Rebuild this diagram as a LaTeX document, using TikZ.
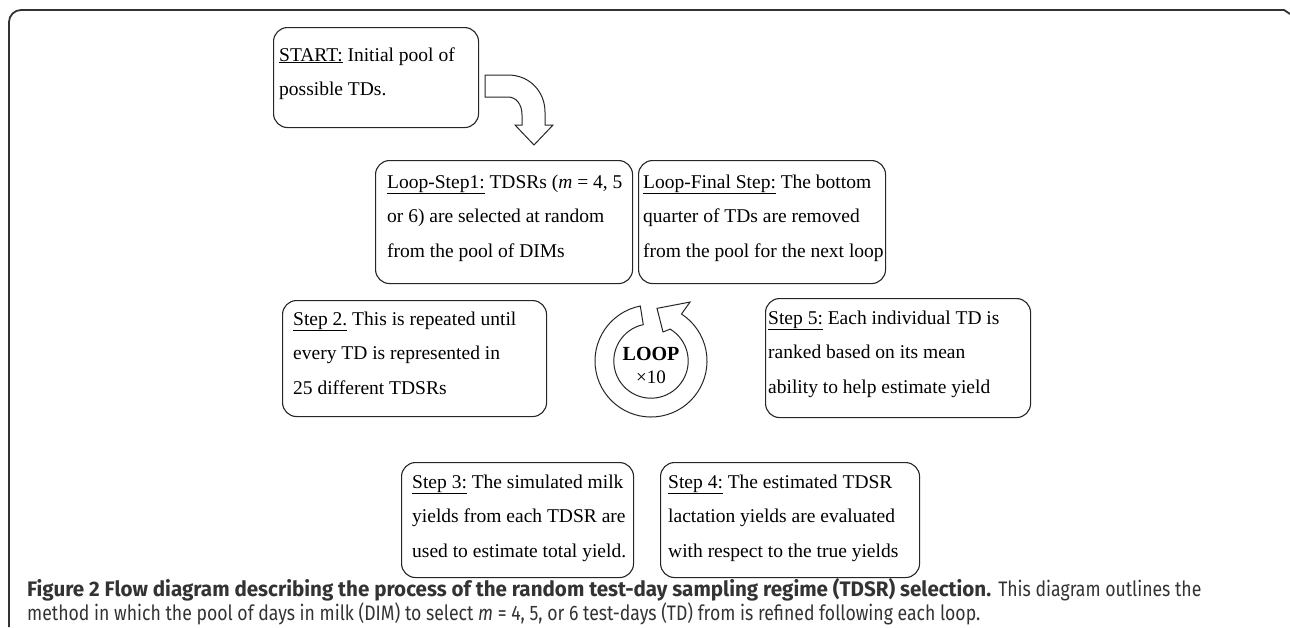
\documentclass[tikz,border=0pt]{standalone}
\usepackage{fontspec}
\setmainfont{Liberation Serif}
\newfontfamily\capreg[FakeStretch=0.84]{Fira Sans}
\newfontfamily\capbold[FakeStretch=0.98]{Fira Sans}
\usetikzlibrary{calc}
\begin{document}
\begin{tikzpicture}[x=1pt,y=-1pt,
  stepbox/.style={draw=black!85, line width=1.1pt, rounded corners=14pt, inner sep=0pt, anchor=north west},
  steptext/.style={inner sep=0pt, anchor=base west, font=\fontsize{19.5}{34.5}\selectfont},
  outline/.style={draw=black!85, line width=1pt, fill=white, line join=miter},
  captext/.style={inner sep=0pt, anchor=base west, text=black!80, font=\fontsize{21}{26}\selectfont}]
\useasboundingbox (0,0) rectangle (1290,627);
% outer frame
\draw[black!80, line width=1.8pt] (9,627) -- (9,22) arc[start angle=180, end angle=270, radius=12] -- (1284,10) -- (1290,14);
% boxes
\node[stepbox, minimum width=205pt, minimum height=100pt] (start) at (273,27) {};
\node[steptext] (startt) at (279,61) {\parbox[t]{200pt}{\underline{START:} Initial pool of\\possible TDs.}};
\node[stepbox, minimum width=257pt, minimum height=123pt] (ls1) at (375,160) {};
\node[steptext] (ls1t) at (387,188) {\parbox[t]{250pt}{\underline{Loop-Step1:} TDSRs (\textit{m} = 4, 5\\or 6) are selected at random\\from the pool of DIMs}};
\node[stepbox, minimum width=247pt, minimum height=123pt] (lf) at (638,160) {};
\node[steptext] (lft) at (643,188) {\parbox[t]{250pt}{\underline{Loop-Final Step:} The bottom\\quarter of TDs are removed\\from the pool for the next loop}};
\node[stepbox, minimum width=264pt, minimum height=116pt] (s2) at (282,300) {};
\node[steptext] (s2t) at (293,325) {\parbox[t]{250pt}{\underline{Step 2.} This is repeated until\\every TD is represented in\\25 different TDSRs}};
\node[stepbox, minimum width=265pt, minimum height=119pt] (s5) at (765,298) {};
\node[steptext] (s5t) at (768,324) {\parbox[t]{260pt}{\underline{Step 5:} Each individual TD is\\ranked based on its mean\\ability to help estimate yield}};
\node[stepbox, minimum width=232pt, minimum height=115pt] (s3) at (401,462) {};
\node[steptext] (s3t) at (412,488) {\parbox[t]{230pt}{\underline{Step 3:} The simulated milk\\yields from each TDSR are\\used to estimate total yield.}};
\node[stepbox, minimum width=259pt, minimum height=115pt] (s4) at (660,462) {};
\node[steptext] (s4t) at (668,488) {\parbox[t]{250pt}{\underline{Step 4:} The estimated TDSR\\lactation yields are evaluated\\with respect to the true yields}};
% bent arrow from start
\draw[outline] (485,75) -- (508,75) .. controls (530,75) and (545,92) .. (545,112) -- (545,125) -- (553,125) -- (534,145) -- (515,125) -- (522,125) -- (522,115) .. controls (522,104) and (516,97) .. (508,97) -- (485,97) -- cycle;
% loop ring
\begin{scope}[shift={(651,361)}, yscale=-1]
\draw[outline] (101:56) arc[start angle=101, end angle=417, radius=56] -- (56.5:70.7) -- (83.5:53) -- (67.5:31.4) -- (59:37.2) arc[start angle=419, end angle=102, radius=37.2] -- cycle;
\end{scope}
\node[inner sep=0pt, anchor=base, font=\fontsize{20}{24}\selectfont\bfseries] (loop) at (651,360) {LOOP};
\node[inner sep=0pt, anchor=base, font=\fontsize{19}{24}\selectfont] (times) at (651,383) {×10};
% caption
\node[captext] (cap1) at (27,596) {{\capbold\bfseries Figure 2 Flow diagram describing the process of the random test-day sampling regime (TDSR) selection.} {\capreg This diagram outlines the}};
\node[captext] (cap2) at (27,620) {\capreg method in which the pool of days in milk (DIM) to select \textit{m} = 4, 5, or 6 test-days (TD) from is refined following each loop.};
\end{tikzpicture}
\end{document}
